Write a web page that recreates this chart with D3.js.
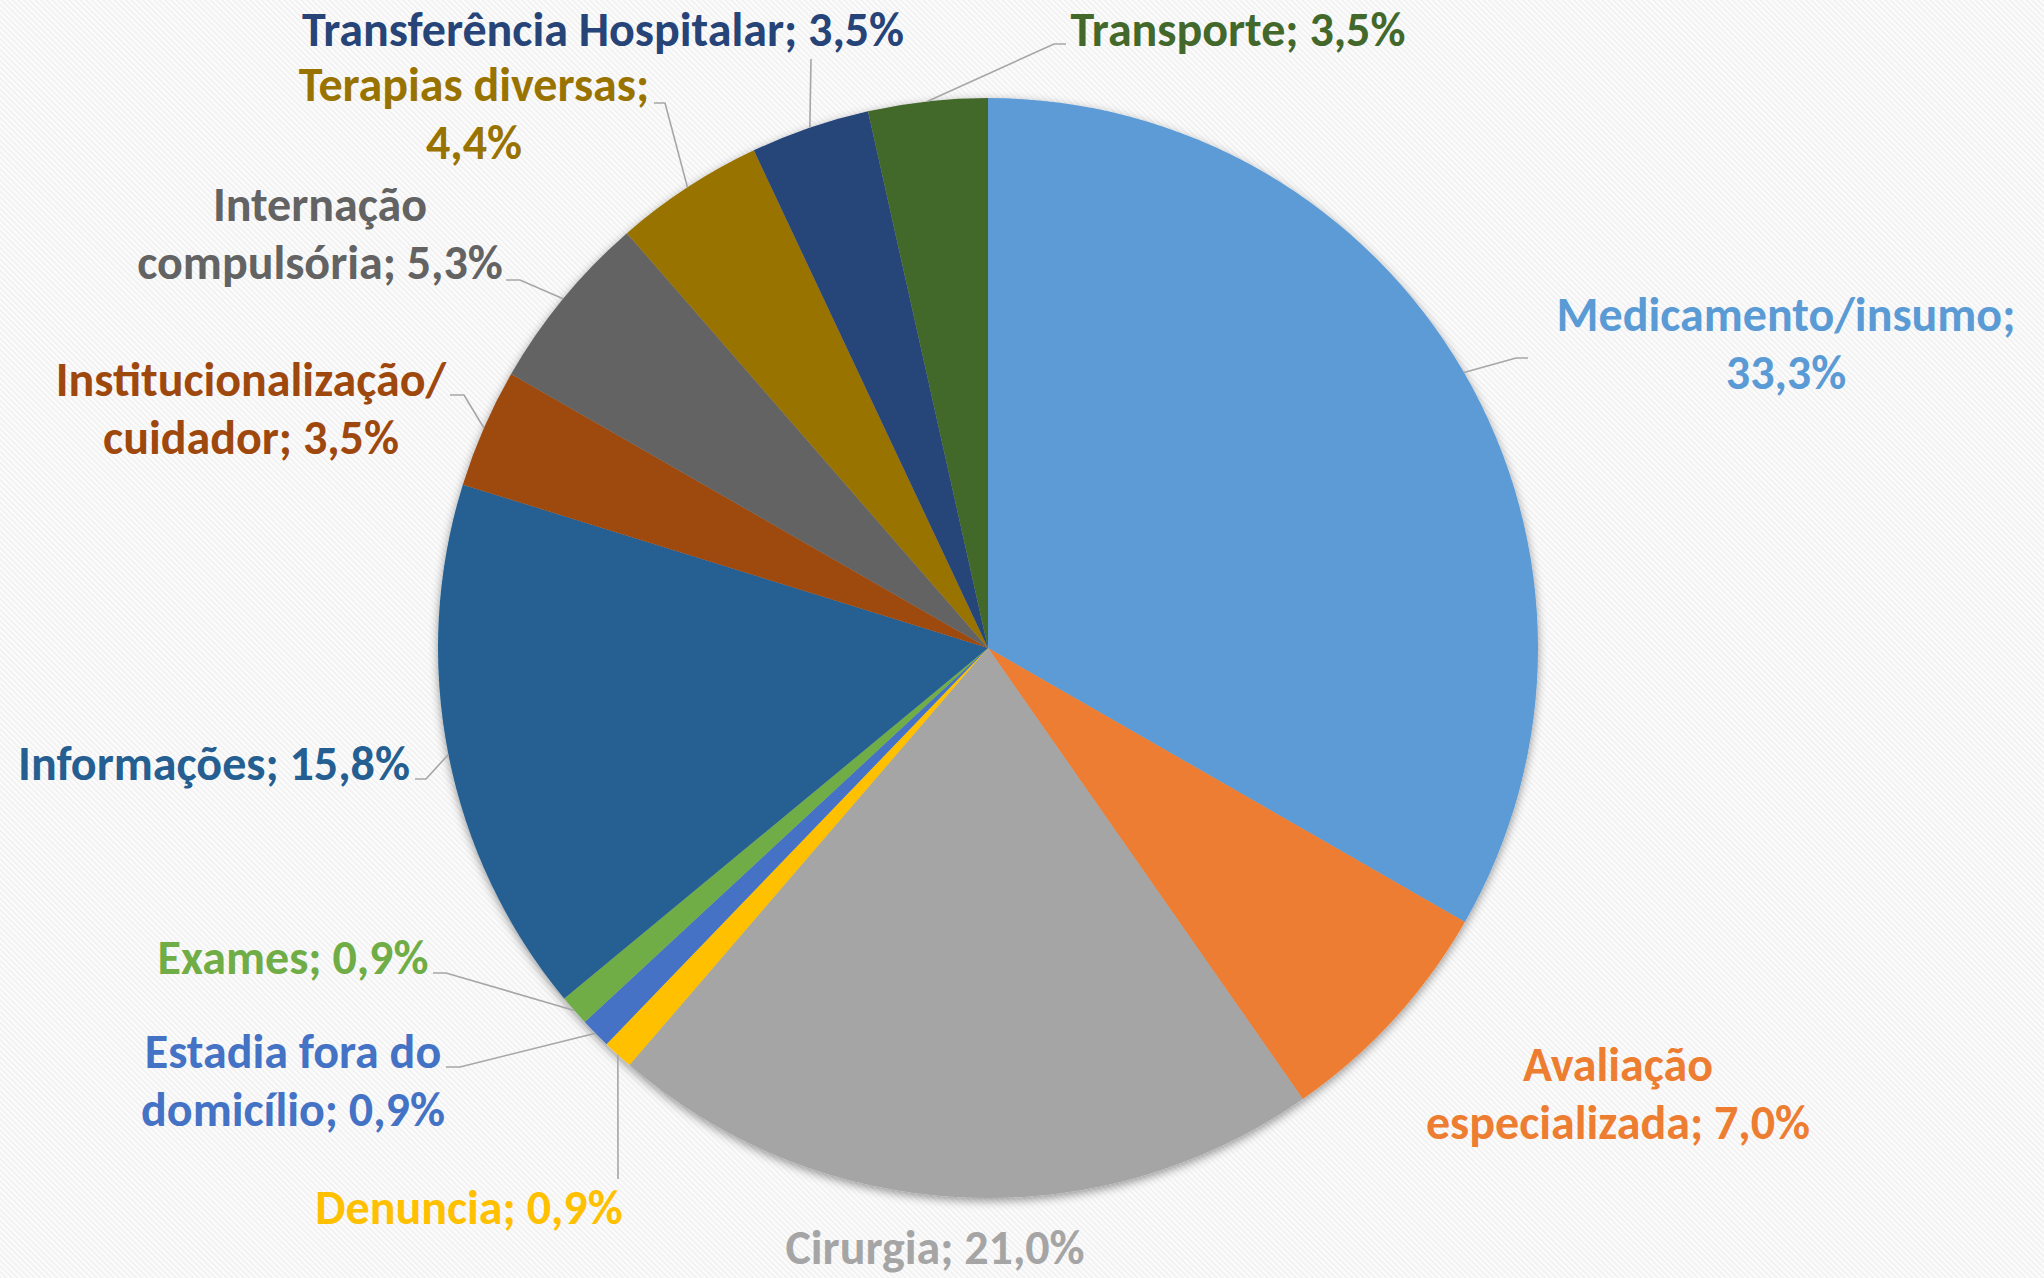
<!DOCTYPE html>
<html>
<head>
<meta charset="utf-8">
<script src="https://cdn.jsdelivr.net/npm/d3@7"></script>
<style>
  html, body { margin: 0; padding: 0; background: #fafafa; }
  svg { display: block; }
  .lbl { font-family: Carlito, Calibri, Lato, "Open Sans", sans-serif; font-weight: 700; }
  .leader { fill: none; stroke: #a6a6a6; stroke-width: 1.6; }
</style>
</head>
<body>
<svg id="chart"></svg>
<script>
// Pie: demandas por tipo (percentual)
var categories = [
    'Medicamento/insumo', 'Avaliação especializada', 'Cirurgia', 'Denuncia',
    'Estadia fora do domicílio', 'Exames', 'Informações',
    'Institucionalização/cuidador', 'Internação compulsória',
    'Terapias diversas', 'Transferência Hospitalar', 'Transporte'
];
var values = [33.3, 7.0, 21.0, 0.9, 0.9, 0.9, 15.8, 3.5, 5.3, 4.4, 3.5, 3.5];
var colors = [
    '#5b9bd5', '#ed7d31', '#a5a5a5', '#ffc000', '#4472c4', '#70ad47',
    '#255e91', '#9e480e', '#636363', '#997300', '#264478', '#43682b'
];

// label placement: anchor (first baseline), wrap = which break opportunity to use,
// tip = leader end near the label, hook = horizontal elbow length
var labelLayout = [
    { x: 1786, y: 331, wrap: 2, tip: [1528, 358], hook: 12 },
    { x: 1618, y: 1081, wrap: 1, tip: null },
    { x: 935, y: 1264, wrap: 0, tip: null },
    { x: 469, y: 1224, wrap: 0, tip: [618, 1179], hook: 0 },
    { x: 293, y: 1068, wrap: 3, tip: [446, 1067], hook: 14 },
    { x: 293, y: 974, wrap: 0, tip: [433, 973], hook: 13 },
    { x: 214, y: 780, wrap: 0, tip: [415, 779], hook: 11 },
    { x: 251, y: 396, wrap: 1, tip: [450, 395], hook: 14 },
    { x: 320, y: 221, wrap: 1, tip: [506, 280], hook: 14 },
    { x: 474, y: 101, wrap: 2, tip: [654, 103], hook: 11 },
    { x: 603, y: 46, wrap: 0, tip: [811, 59], hook: 0 },
    { x: 1238, y: 46, wrap: 0, tip: [1066, 44], hook: 12 }
];

(function () {
    var W = 2044, H = 1278;
    var cx = 988, cy = 648, R = 550;
    var FS = 48, LH = 58;

    var svg = d3.select('#chart').attr('width', W).attr('height', H)
        .attr('viewBox', '0 0 ' + W + ' ' + H);
    var defs = svg.append('defs');

    var pat = defs.append('pattern').attr('id', 'bgstripe')
        .attr('patternUnits', 'userSpaceOnUse')
        .attr('width', 4).attr('height', 4)
        .attr('patternTransform', 'rotate(-45)');
    pat.append('rect').attr('width', 4).attr('height', 4).attr('fill', '#fcfcfc');
    pat.append('rect').attr('width', 1.6).attr('height', 4).attr('fill', '#f0f0f0');

    var flt = defs.append('filter').attr('id', 'pieshadow')
        .attr('x', '-10%').attr('y', '-10%').attr('width', '120%').attr('height', '120%');
    flt.append('feDropShadow').attr('dx', 0).attr('dy', 3)
        .attr('stdDeviation', 5).attr('flood-color', '#000').attr('flood-opacity', 0.4);

    svg.append('rect').attr('width', W).attr('height', H).attr('fill', 'url(#bgstripe)');

    var pie = d3.pie().sort(null).value(function (d) { return d; });
    var arcs = pie(values);
    var arc = d3.arc().innerRadius(0).outerRadius(R);

    var gPie = svg.append('g')
        .attr('transform', 'translate(' + cx + ',' + cy + ')')
        .attr('filter', 'url(#pieshadow)');
    gPie.selectAll('path').data(arcs).enter().append('path')
        .attr('d', arc)
        .attr('fill', function (d, i) { return colors[i]; });

    function fmt(v) { return v.toFixed(1).replace('.', ',') + '%'; }

    // split a label at its k-th break opportunity (space, or just after '/')
    function wrapLabel(s, k) {
        if (!k) return [s];
        var n = 0;
        for (var i = 0; i < s.length; i++) {
            if (s[i] === ' ') {
                n++;
                if (n === k) return [s.slice(0, i), s.slice(i + 1)];
            } else if (s[i] === '/' && s[i + 1] && s[i + 1] !== ' ') {
                n++;
                if (n === k) return [s.slice(0, i + 1), s.slice(i + 1)];
            }
        }
        return [s];
    }

    var gLead = svg.append('g');
    var gLab = svg.append('g');

    arcs.forEach(function (a, i) {
        var L = labelLayout[i];
        var label = categories[i] + '; ' + fmt(values[i]);
        var lines = wrapLabel(label, L.wrap);

        var t = gLab.append('text').attr('class', 'lbl')
            .attr('text-anchor', 'middle')
            .attr('font-size', FS)
            .attr('fill', colors[i]);
        lines.forEach(function (ln, j) {
            t.append('tspan').attr('x', L.x).attr('y', L.y + j * LH).text(ln);
        });

        if (L.tip) {
            var mid = (a.startAngle + a.endAngle) / 2;
            var p0 = [cx + R * Math.sin(mid), cy - R * Math.cos(mid)];
            var pts = [p0];
            if (L.hook) {
                var dir = L.tip[0] < p0[0] ? 1 : -1;
                pts.push([L.tip[0] + dir * L.hook, L.tip[1]]);
            }
            pts.push(L.tip);
            gLead.append('path').attr('class', 'leader').attr('d', d3.line()(pts));
        }
    });
})();
</script>
</body>
</html>
